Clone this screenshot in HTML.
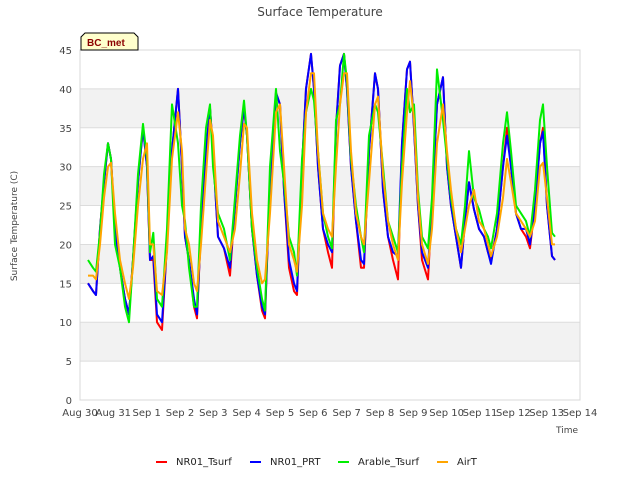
<!DOCTYPE html>
<html><head><meta charset="utf-8"><style>
body{margin:0;background:#fff;}
svg text{font-family:"DejaVu Sans","Liberation Sans",sans-serif;}
</style></head><body>
<svg id="chart" width="640" height="480" xmlns="http://www.w3.org/2000/svg">
<rect width="640" height="480" fill="#fff"/>
<g id="bands"></g>
<g id="grid"></g>
<rect x="80" y="50" width="500" height="350" fill="none" stroke="#d8d8d8"/>
<g id="series"></g>
<g id="yticks"></g>
<g id="xticks"></g>
<text x="320" y="16" text-anchor="middle" font-size="12" fill="#444">Surface Temperature</text>
<text x="17" y="226" text-anchor="middle" font-size="9" fill="#444" transform="rotate(-90 17 226)">Surface Temperature (C)</text>
<text x="578" y="433" text-anchor="end" font-size="9" fill="#444">Time</text>
<g>
<path d="M81,50 L81,37 L85,33 L134,33 L138,37 L138,50 Z" fill="#ffffcc" stroke="#000"/>
<text x="87" y="46" font-size="10" font-weight="bold" fill="#8b0000" style="font-family:'Liberation Sans',sans-serif">BC_met</text>
</g>
<g id="legend"></g>
</svg>
<script>
const xLabels=["Aug 30","Aug 31","Sep 1","Sep 2","Sep 3","Sep 4","Sep 5","Sep 6","Sep 7","Sep 8","Sep 9","Sep 10","Sep 11","Sep 12","Sep 13","Sep 14"];
const yTicks=[0,5,10,15,20,25,30,35,40,45];
const seriesNames=["NR01_Tsurf","NR01_PRT","Arable_Tsurf","AirT"];
const seriesColors=["#ff0000","#0000ff","#00ee00","#ffa500"];
const times=[0.24,0.39,0.48,0.6,0.72,0.84,0.93,1.05,1.2,1.35,1.47,1.59,1.74,1.89,2.01,2.1,2.2,2.31,2.46,2.61,2.76,2.94,3.06,3.15,3.27,3.42,3.51,3.63,3.78,3.9,3.99,4.14,4.32,4.5,4.65,4.8,4.92,5.01,5.16,5.31,5.46,5.55,5.7,5.88,6.0,6.12,6.27,6.42,6.51,6.66,6.78,6.93,7.02,7.14,7.29,7.44,7.56,7.68,7.8,7.92,8.01,8.13,8.28,8.43,8.52,8.67,8.85,8.94,9.09,9.24,9.39,9.54,9.66,9.81,9.9,10.02,10.14,10.26,10.44,10.56,10.71,10.89,11.01,11.13,11.28,11.43,11.55,11.67,11.82,11.97,12.12,12.24,12.33,12.51,12.69,12.81,12.93,13.08,13.23,13.38,13.5,13.65,13.8,13.89,14.01,14.16,14.25];
const nr01Tsurf=[15,14,13.5,22,28,33,31,22, 17,13,11,18,28,35,30, 18,18,10,9,20,32,40, 30,21,18,12,10.5,22,32,37.5,32, 21,19.5,16,25,33,37.5,34, 22,16,11.5,10.5,28,39.5,38, 27,17,14,13.5,30,40,44.5,40, 30,22,19,17,35,43,44.5,40, 30,23,17,17,32,42,40, 27,21,18,15.5,33,42.5,43.5,35, 25,18,15.5,25,38,41.5,30, 25,21,17,23,28,24.5,22, 21,19,18,22,30,35,30, 24,22,21,19.5,25,33,35,25, 18.5,18];
const nr01Prt=[15,14,13.5,22,28,33,31,22, 17,13,11,18,28,35,30, 18,18.5,11,10,20,32,40, 30,21,18,13,11,22,32,37.5,32, 21,19.5,17,25,33,37.7,34, 22,16,12,11,28,39.5,38, 27,18,15,14,30,40,44.5,40, 30,22,20,19,35,43,44.5,40, 30,23,18,17.5,32,42,40, 27,21,19,18.5,33,42.5,43.5,35, 25,19,17,25,38,41.5,30, 25,21,17,23,28,24.5,22, 21,19,17.5,22,30,34,30, 24,22,22,20,25,33,34.5,25, 18.5,18];
const arableTsurf=[18,17,16.5,21.5,29,33,31,20, 17,12,10,18,29,35.5,31, 19,21.5,13,12,22,38,33, 25,23,17,12,12,25,35,38,30, 24,22,18,26,34,38.5,34, 22,17,13,11.5,30,40,32, 28,21,19,16,31,37,40,38.5, 32,24,21,19.5,36,38,44.5,41, 31,25,21,19,34,38,37, 30,23,21,19,30,40,37,38, 27,21,19.5,26,42.5,36,31, 26,22,20,25,32,26,24.5, 22,21,19.5,24,33,37,32, 25,24,23,21,27,36,38,30, 21.5,21];
const airT=[16,16,15.5,20,26,30,30.5,24, 18,15,13,17,25,31,33, 20,20,14,13.5,19,31,37, 32,22,20,15,14,20,29,36,34, 23,21,19,22,29,35.5,35, 24,18,15,15.5,24,37,38, 30,20,18,16.5,25,37,42,42, 32,24,22,21,30,38,42,42, 32,24,21,20,28,38,39, 29,23,20,18,28,37,41,36, 26,20,17.5,22,33,38,32, 27,22,19,22,25,27,23, 22,20,18.5,21,26,31,28, 24,23,22,21,23,30,30.5,26, 20,20];
const allSeries=[nr01Tsurf,nr01Prt,arableTsurf,airT];
const NS="http://www.w3.org/2000/svg";
const X=d=>80+d*500/15;
const Y=v=>400-v*350/45;
function mk(tag,attrs,parent){const e=document.createElementNS(NS,tag);for(const k in attrs)e.setAttribute(k,attrs[k]);parent.appendChild(e);return e;}
const bands=document.getElementById('bands');
for(let i=0;i<yTicks.length-1;i++){
  if(i%2===1){const r=mk('rect',{x:80,y:Y(yTicks[i+1]),width:500,height:Y(yTicks[i])-Y(yTicks[i+1]),fill:'#f2f2f2'},bands);
  
  }
}
const grid=document.getElementById('grid'),yt=document.getElementById('yticks');
yTicks.forEach(v=>{
  const l=mk('line',{x1:80,x2:580,y1:Y(v),y2:Y(v),stroke:'#dcdcdc'},grid);
  
  
  const t=mk('text',{x:72,y:Y(v)+4,'text-anchor':'end','font-size':10,fill:'#444'},yt);
  t.textContent=v;
  
  
});
const xt=document.getElementById('xticks');
xLabels.forEach((s,i)=>{
  const t=mk('text',{x:X(i),y:416,'text-anchor':'middle','font-size':10,fill:'#444'},xt);
  t.textContent=s;
  
  
});
const sg=document.getElementById('series');
allSeries.forEach((vals,si)=>{
  const d=vals.map((v,i)=>(i?'L':'M')+X(times[i]).toFixed(1)+','+Y(v).toFixed(1)).join(' ');
  const p=mk('path',{d:d,fill:'none',stroke:seriesColors[si],'stroke-width':2,'stroke-linejoin':'round'},sg);
  
  
});
const lg=document.getElementById('legend');
const lx=[156,250,338,437];
seriesNames.forEach((n,i)=>{
  const g=mk('g',{},lg);
  
  
  mk('line',{x1:lx[i],x2:lx[i]+11,y1:462,y2:462,stroke:seriesColors[i],'stroke-width':2},g);
  const t=mk('text',{x:lx[i]+20,y:465,'font-size':10,fill:'#222'},g);
  t.textContent=n;
});
</script>
</body></html>
